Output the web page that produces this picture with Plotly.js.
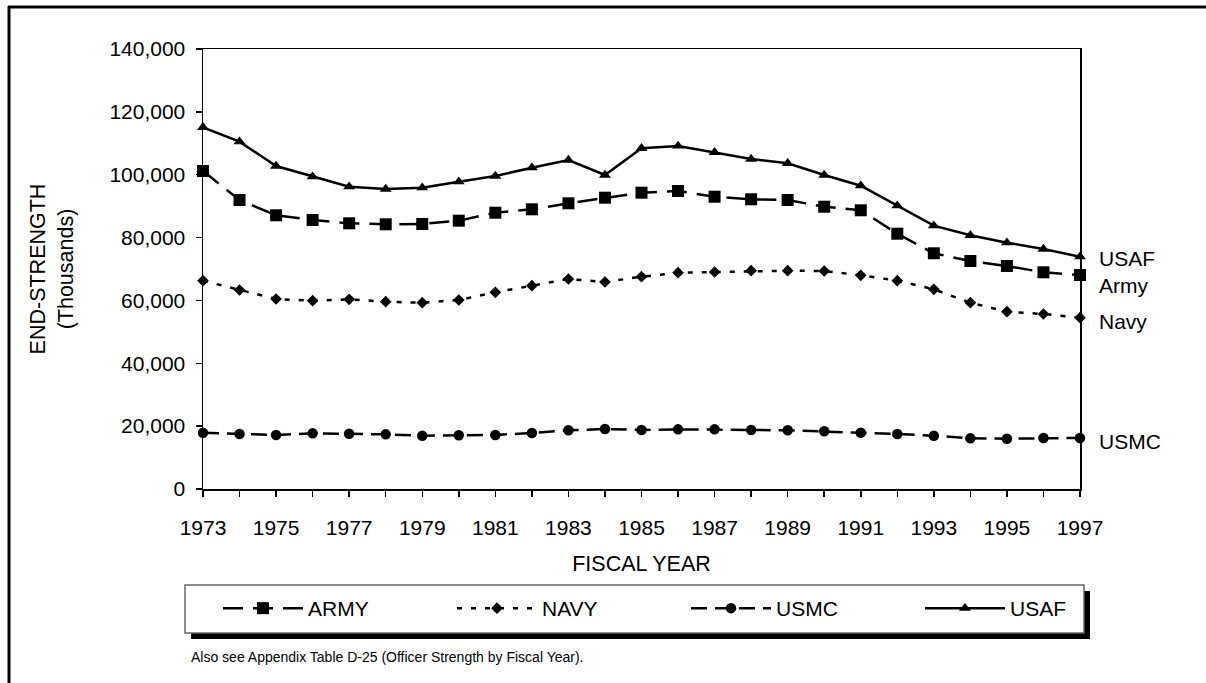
<!DOCTYPE html>
<html>
<head>
<meta charset="utf-8">
<script src="https://cdn.plot.ly/plotly-3.0.1.min.js"></script>
<style>
  html, body { margin: 0; padding: 0; background: #fff; }
  #chart { width: 1206px; height: 683px; }
</style>
</head>
<body>
<div id="chart"></div>
<script>
const years = [1973,1974,1975,1976,1977,1978,1979,1980,1981,1982,1983,1984,1985,1986,1987,1988,1989,1990,1991,1992,1993,1994,1995,1996,1997];
const army = [101180,91950,87090,85590,84540,84220,84320,85370,87910,88990,90900,92690,94280,94820,93000,92180,91950,89820,88680,81230,75000,72540,70950,68950,68090];
const navy = [66280,63320,60450,59910,60360,59590,59280,60140,62590,64690,66820,65860,67550,68820,69050,69460,69460,69360,68000,66280,63540,59280,56410,55680,54500];
const usmc = [17920,17500,17180,17710,17600,17390,16970,17080,17180,17820,18670,19090,18770,18980,18980,18770,18670,18350,17920,17500,16970,16120,16010,16230,16230];
const usaf = [115090,110510,102770,99370,96190,95450,95870,97780,99590,102230,104680,99910,108400,109140,107130,105000,103630,99910,96500,90140,83780,80720,78370,76360,73910];
const seriesNames = ["ARMY","NAVY","USMC","USAF"];
const endLabels = ["Army","Navy","USMC","USAF"];

const FONT = "Liberation Sans, Arial, sans-serif";

const traces = [
  {x: years, y: army, name: seriesNames[0], mode: "lines+markers",
   line: {color: "#000", width: 2.5, dash: "20px,10px"},
   marker: {symbol: "square", size: 12, color: "#000"}, cliponaxis: false},
  {x: years, y: navy, name: seriesNames[1], mode: "lines+markers",
   line: {color: "#000", width: 2.5, dash: "5px,9px"},
   marker: {symbol: "diamond", size: 9, color: "#000"}, cliponaxis: false},
  {x: years, y: usmc, name: seriesNames[2], mode: "lines+markers",
   line: {color: "#000", width: 2.5, dash: "16px,8px"},
   marker: {symbol: "circle", size: 10.5, color: "#000"}, cliponaxis: false},
  {x: years, y: usaf, name: seriesNames[3], mode: "lines+markers",
   line: {color: "#000", width: 2.5},
   marker: {symbol: "triangle-up", size: 10.5, color: "#000"}, cliponaxis: false}
];

// pixel->paper helpers for layout decorations
const W = 1206, H = 683;
const L = 203, R = 1080, T = 49, B = 489;
const px = v => (v - L) / (R - L);
const py = v => (B - v) / (B - T);

const layout = {
  width: W, height: H,
  margin: {l: L, r: W - R, t: T, b: H - B, pad: 0},
  paper_bgcolor: "#fff", plot_bgcolor: "#fff",
  font: {family: FONT, size: 21, color: "#000"},
  showlegend: true,
  xaxis: {
    range: [1973, 1997], tickmode: "linear", tick0: 1973, dtick: 2,
    ticks: "outside", ticklen: 6, tickwidth: 1.5, tickcolor: "#000",
    minor: {dtick: 1, tick0: 1973, ticks: "outside", ticklen: 6, tickwidth: 1.5, tickcolor: "#000"},
    showline: true, linecolor: "#000", linewidth: 1.5, mirror: true,
    showgrid: false, zeroline: false,
    tickfont: {size: 21}, ticklabelstandoff: 13,
    title: {text: "FISCAL YEAR", font: {size: 21.5}, standoff: 18},
    automargin: false
  },
  yaxis: {
    range: [0, 140000], tickmode: "linear", tick0: 0, dtick: 20000,
    tickformat: ",d",
    ticks: "outside", ticklen: 6, tickwidth: 1.5, tickcolor: "#000",
    showline: true, linecolor: "#000", linewidth: 1.5, mirror: true,
    showgrid: false, zeroline: false,
    tickfont: {size: 21}, ticklabelstandoff: 6,
    title: {text: "END-STRENGTH<br>(Thousands)", font: {size: 21.5}, standoff: 30},
    automargin: false
  },
  legend: {
    orientation: "h",
    x: px(1154), y: py(588), xanchor: "right", yanchor: "top",
    bgcolor: "rgba(0,0,0,0)", borderwidth: 0,
    font: {size: 21}, itemwidth: 80, entrywidth: 139, entrywidthmode: "pixels",
    itemclick: false, itemdoubleclick: false
  },
  shapes: [
    // legend drop shadow
    {type: "rect", xref: "paper", yref: "paper", x0: px(191), x1: px(1090), y0: py(591), y1: py(639),
     fillcolor: "#000", line: {width: 0}, layer: "above"},
    // legend box
    {type: "rect", xref: "paper", yref: "paper", x0: px(185), x1: px(1084), y0: py(585), y1: py(633),
     fillcolor: "#fff", line: {color: "#666", width: 1.5}, layer: "above"},
    // outer frame (left and top edges)
    {type: "line", xref: "paper", yref: "paper", x0: px(9), x1: px(9), y0: py(6), y1: py(690),
     line: {color: "#000", width: 3}},
    {type: "line", xref: "paper", yref: "paper", x0: px(8), x1: px(1206), y0: py(7), y1: py(7),
     line: {color: "#000", width: 3}}
  ],
  annotations: [
    {xref: "paper", yref: "paper", x: px(1097), y: py(258), text: endLabels[3], showarrow: false, xanchor: "left", yanchor: "middle", font: {size: 21}},
    {xref: "paper", yref: "paper", x: px(1097), y: py(285), text: endLabels[0], showarrow: false, xanchor: "left", yanchor: "middle", font: {size: 21}},
    {xref: "paper", yref: "paper", x: px(1097), y: py(321), text: endLabels[1], showarrow: false, xanchor: "left", yanchor: "middle", font: {size: 21}},
    {xref: "paper", yref: "paper", x: px(1097), y: py(441), text: endLabels[2], showarrow: false, xanchor: "left", yanchor: "middle", font: {size: 21}},
    {xref: "paper", yref: "paper", x: px(189), y: py(657), text: "Also see Appendix Table D-25 (Officer Strength by Fiscal Year).", showarrow: false, xanchor: "left", yanchor: "middle", font: {size: 14}}
  ]
};

Plotly.newPlot("chart", traces, layout, {staticPlot: true, displayModeBar: false});
</script>
</body>
</html>
